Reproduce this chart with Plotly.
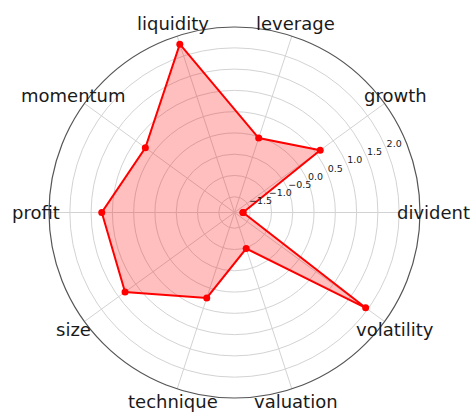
import math
import plotly.graph_objects as go

categories = ["divident", "growth", "leverage", "liquidity", "momentum",
              "profit", "size", "technique", "valuation", "volatility"]
values = [-1.67, 0.62, -0.03, 2.29, 0.72, 1.25, 1.31, 0.24, -0.98, 1.94]
rtick_vals = [-1.5, -1.0, -0.5, 0.0, 0.5, 1.0, 1.5, 2.0]
rtick_text = ["\u22121.5", "\u22121.0", "\u22120.5", "0.0", "0.5", "1.0", "1.5", "2.0"]
rlabel_angle = 22.5

r_min, r_max = -1.87, 2.49

W, H = 474, 417
ML, MR, MT, MB = 49, 54, 27, 19
PW, PH = W - ML - MR, H - MT - MB
cx, cy = ML + PW / 2, MT + PH / 2   # polar centre, pixels
label_px = 199                       # label distance from centre, pixels

theta_closed = categories + categories[:1]
values_closed = values + values[:1]

fig = go.Figure()
fig.add_trace(go.Scatterpolar(
    r=values_closed, theta=theta_closed,
    mode="lines+markers",
    fill="toself", fillcolor="rgba(255,0,0,0.25)",
    line=dict(color="red", width=2),
    marker=dict(color="red", size=7),
    hoverinfo="skip", showlegend=False,
))
# radial tick labels, drawn on an overlaid polar with the same radial scale
fig.add_trace(go.Scatterpolar(
    r=rtick_vals, theta=[rlabel_angle] * len(rtick_vals),
    mode="text", text=rtick_text, textposition="top right",
    textfont=dict(family="DejaVu Sans", size=9.5, color="#1a1a1a"),
    cliponaxis=False, hoverinfo="skip", showlegend=False,
    subplot="polar2",
))

annotations = []
n = len(categories)
for i, name in enumerate(categories):
    ang = 2 * math.pi * i / n
    px = cx + label_px * math.cos(ang)
    py = cy - label_px * math.sin(ang)
    annotations.append(dict(
        text=name, xref="paper", yref="paper",
        x=(px - ML) / PW, y=(H - MB - py) / PH,
        xanchor="center", yanchor="middle", showarrow=False,
        font=dict(family="DejaVu Sans", size=18, color="#1a1a1a"),
    ))

fig.update_layout(
    width=W, height=H,
    margin=dict(l=ML, r=MR, t=MT, b=MB),
    paper_bgcolor="white",
    font=dict(family="DejaVu Sans", color="#1a1a1a"),
    annotations=annotations,
    polar=dict(
        bgcolor="white",
        domain=dict(x=[0, 1], y=[0, 1]),
        angularaxis=dict(
            type="category", categoryorder="array", categoryarray=categories,
            direction="counterclockwise", rotation=0,
            showticklabels=False, ticks="",
            showgrid=True, gridcolor="#d3d3d3", gridwidth=1,
            showline=True, linecolor="#555555", linewidth=1.2,
        ),
        radialaxis=dict(
            range=[r_min, r_max], angle=rlabel_angle,
            tickvals=rtick_vals, showticklabels=False,
            ticks="", showline=False,
            showgrid=True, gridcolor="#d3d3d3", gridwidth=1,
        ),
    ),
    polar2=dict(
        bgcolor="rgba(0,0,0,0)",
        domain=dict(x=[0, 1], y=[0, 1]),
        angularaxis=dict(
            direction="counterclockwise", rotation=0, thetaunit="degrees",
            showticklabels=False, ticks="", showgrid=False, showline=False,
        ),
        radialaxis=dict(
            range=[r_min, r_max], showticklabels=False, ticks="",
            showgrid=False, showline=False,
        ),
    ),
)

fig.write_html("out.html", config={"displayModeBar": False},
               post_script="document.body.style.margin='0';")
